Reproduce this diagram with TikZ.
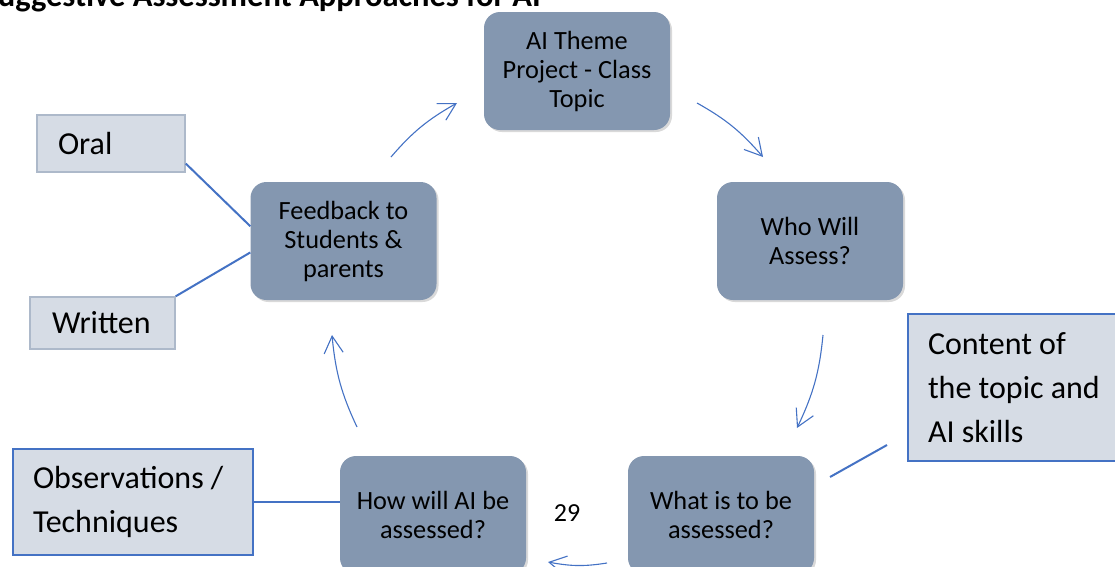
\documentclass[tikz,border=0pt]{standalone}
\usepackage{fontspec}
\setmainfont{Carlito}
\usetikzlibrary{arrows.meta,shadows,bending}
\definecolor{boxfill}{HTML}{8497B0}
\definecolor{sidefill}{HTML}{D6DCE5}
\definecolor{sideline}{HTML}{ADB9CA}
\definecolor{accent}{HTML}{4472C4}
\begin{document}
\begin{tikzpicture}[x=1pt,y=-1pt,
  stage/.style={fill=boxfill, rounded corners=16pt, minimum width=186pt, minimum height=118pt,
    align=center, inner sep=0pt, font=\fontsize{26.3}{29}\selectfont,
    drop shadow={shadow xshift=2pt, shadow yshift=-2pt, opacity=0.3}},
  side/.style={fill=sidefill, draw=sideline, line width=1.5pt, align=left,
    inner ysep=0pt, font=\fontsize{32}{43.7}\selectfont,
    execute at begin node={\spaceskip=0pt\xspaceskip=0pt}},
  sideblue/.style={side, draw=accent},
  link/.style={draw=accent, line width=2pt},
  cyc/.style={draw=accent, line width=1.1pt, -{Straight Barb[length=17pt,width=19pt]}}]
\useasboundingbox (0,0) rectangle (1115,566);
\clip (0,0) rectangle (1115,566);

% title (cut off at the top)
\node[anchor=base east, inner sep=0pt, font=\bfseries\fontsize{32.5}{36}\selectfont] (title) at (541,6) {Suggestive Assessment Approaches for AI};

% cycle stages
\node[stage] (theme) at (577,71) {AI Theme\\Project - Class\\Topic};
\node[stage] (who) at (810,241) {Who Will\\Assess?};
\node[stage] (what) at (721,515) {What is to be\\assessed?};
\node[stage] (how) at (433,515) {How will AI be\\assessed?};
\node[stage] (feed) at (343.5,241) {Feedback to\\Students \&\\parents};

% side boxes
\node[side, minimum height=57pt, text width=106pt, inner xsep=21pt] (oral) at (111,143.5) {Oral};
\node[side, minimum height=52pt, text width=101pt, inner xsep=22pt] (written) at (102.5,323) {Written};
\node[sideblue, minimum height=106pt, text width=200pt, inner xsep=20pt] (obs) at (133,502) {Observations /\\Techniques};
\node[sideblue, minimum height=147pt, text width=178pt, inner xsep=20pt] (content) at (1017,387.5) {Content of\\the topic and\\AI skills};

\node[font=\fontsize{26}{30}\selectfont, inner sep=0pt] (page) at (567,513) {29};

% links to side boxes
\draw[link] (oral.-15.5) -- (feed.171.4);
\draw[link] (written.north east) -- (feed.-173);
\draw[link] (obs.east) -- (obs.east -| how.west);
\coordinate (cA) at (830,477);
\coordinate (cB) at (887,445);
\draw[link] (cA) -- (cB);

% cycle arrows
\coordinate (a1s) at (391,157); \coordinate (a1e) at (457,103);
\coordinate (a2s) at (697,103); \coordinate (a2e) at (763,157);
\coordinate (a3s) at (823,335); \coordinate (a3e) at (797,428);
\coordinate (a4s) at (607,563); \coordinate (a4e) at (548,562);
\coordinate (a5s) at (357,427); \coordinate (a5e) at (332,335);
\draw[cyc] (a1s) to[bend left=10] (a1e);
\draw[cyc] (a2s) to[bend left=10] (a2e);
\draw[cyc] (a3s) to[bend left=10] (a3e);
\draw[cyc] (a4s) to[bend left=10] (a4e);
\draw[cyc] (a5s) to[bend left=10] (a5e);
\end{tikzpicture}
\end{document}
